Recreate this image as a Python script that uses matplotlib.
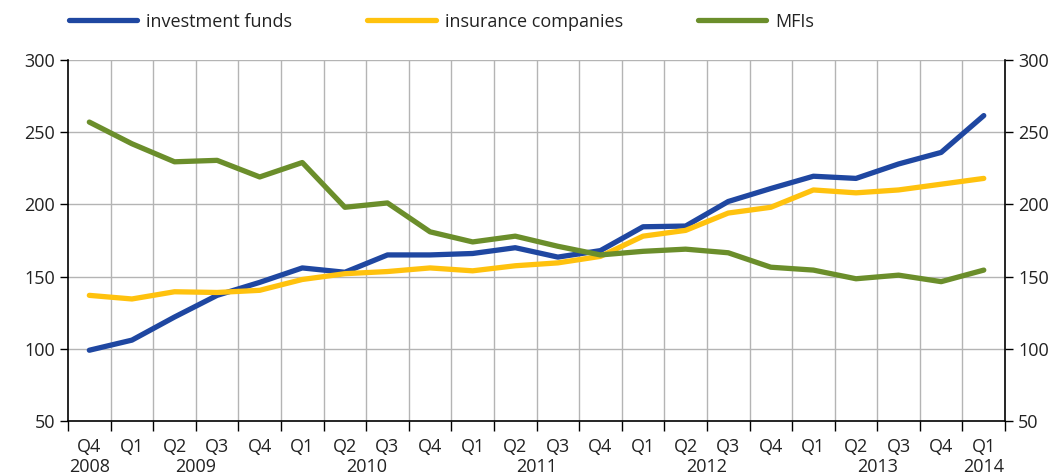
import matplotlib.pyplot as plt
import numpy as np

plt.rcParams['font.family'] = ['Open Sans', 'DejaVu Sans']

# quarters Q4 2008 .. Q1 2014
quarters = ['Q4', 'Q1', 'Q2', 'Q3', 'Q4', 'Q1', 'Q2', 'Q3', 'Q4', 'Q1', 'Q2',
            'Q3', 'Q4', 'Q1', 'Q2', 'Q3', 'Q4', 'Q1', 'Q2', 'Q3', 'Q4', 'Q1']
years = ['2008', '2009', '2010', '2011', '2012', '2013', '2014']

investment_funds = [99, 106, 122, 137, 146, 156, 153, 165, 165, 166, 170, 163.5,
                    168, 184.5, 185, 202, 211, 219.5, 218, 228, 236, 261.5]
insurance_companies = [137, 134.5, 139.5, 139, 140.5, 148, 152, 153.5, 156, 154, 157.5, 159.5,
                       164, 178, 182, 194, 198, 210, 208, 210, 214, 218]
mfis = [257, 242, 229.5, 230.5, 219, 229, 198, 201, 181, 174, 178, 171,
        165, 167.5, 169, 166.5, 156.5, 154.5, 148.5, 151, 146.5, 154.5]

c_blue = '#1f47a1'
c_yellow = '#ffc20e'
c_green = '#6b8e2b'
txt_col = '#222222'

fig = plt.figure(figsize=(10.63, 4.75), dpi=100)
ax = fig.add_axes([0.064, 0.1137, 0.8815, 0.76])

x = np.arange(len(quarters))
ax.plot(x, investment_funds, color=c_blue, lw=3.8, solid_capstyle='round', label='investment funds', zorder=3)
ax.plot(x, insurance_companies, color=c_yellow, lw=3.8, solid_capstyle='round', label='insurance companies', zorder=3)
ax.plot(x, mfis, color=c_green, lw=3.8, solid_capstyle='round', label='MFIs', zorder=3)

ax.set_xlim(-0.5, len(quarters) - 0.5)
ax.set_ylim(50, 300)
ax.set_yticks(np.arange(50, 301, 50))

# vertical grid at quarter boundaries
bounds = np.arange(-0.5, len(quarters), 1.0)
for b in bounds[1:-1]:
    ax.axvline(b, color='#b4b4b4', lw=1.0, zorder=1)
for v in range(100, 301, 50):
    ax.axhline(v, color='#b4b4b4', lw=1.0, zorder=1)

# ticks at boundaries, longer at year boundaries
year_bounds = [b for i, b in enumerate(bounds) if i < len(quarters) and quarters[i] == 'Q1']
ax.set_xticks(bounds)
ax.set_xticklabels([])
ax.tick_params(axis='x', which='major', length=7, width=1, direction='out', color='black')
ax.set_xticks(year_bounds, minor=True)
ax.tick_params(axis='x', which='minor', length=11, width=1, direction='out', color='black')

# quarter labels
for i, q in enumerate(quarters):
    ax.text(i, 38.5, q, ha='center', va='top', fontsize=13, color=txt_col)

# year labels: first under Q4 2008, last under Q1 2014, others between Q2 and Q3
ax.text(0, 24.5, years[0], ha='center', va='top', fontsize=13, color=txt_col)
for k, yr in enumerate(years[1:-1]):
    ax.text(2.5 + 4 * k, 24.5, yr, ha='center', va='top', fontsize=13, color=txt_col)
ax.text(len(quarters) - 1, 24.5, years[-1], ha='center', va='top', fontsize=13, color=txt_col)

ax.tick_params(axis='y', which='both', length=6, width=1, direction='out', labelsize=13,
               left=True, right=True, labelleft=True, labelright=True, labelcolor=txt_col)

for s in ['left', 'right', 'bottom']:
    ax.spines[s].set_color('black')
    ax.spines[s].set_linewidth(1.2)
ax.spines['top'].set_visible(False)

fig.legend(loc='upper left', bbox_to_anchor=(0.0526, 1.0), ncol=3, frameon=False,
           fontsize=13, handlelength=3.8, handletextpad=0.5, columnspacing=4.15,
           borderaxespad=0.3, labelcolor=txt_col)

fig.savefig('out.png', dpi=100)
